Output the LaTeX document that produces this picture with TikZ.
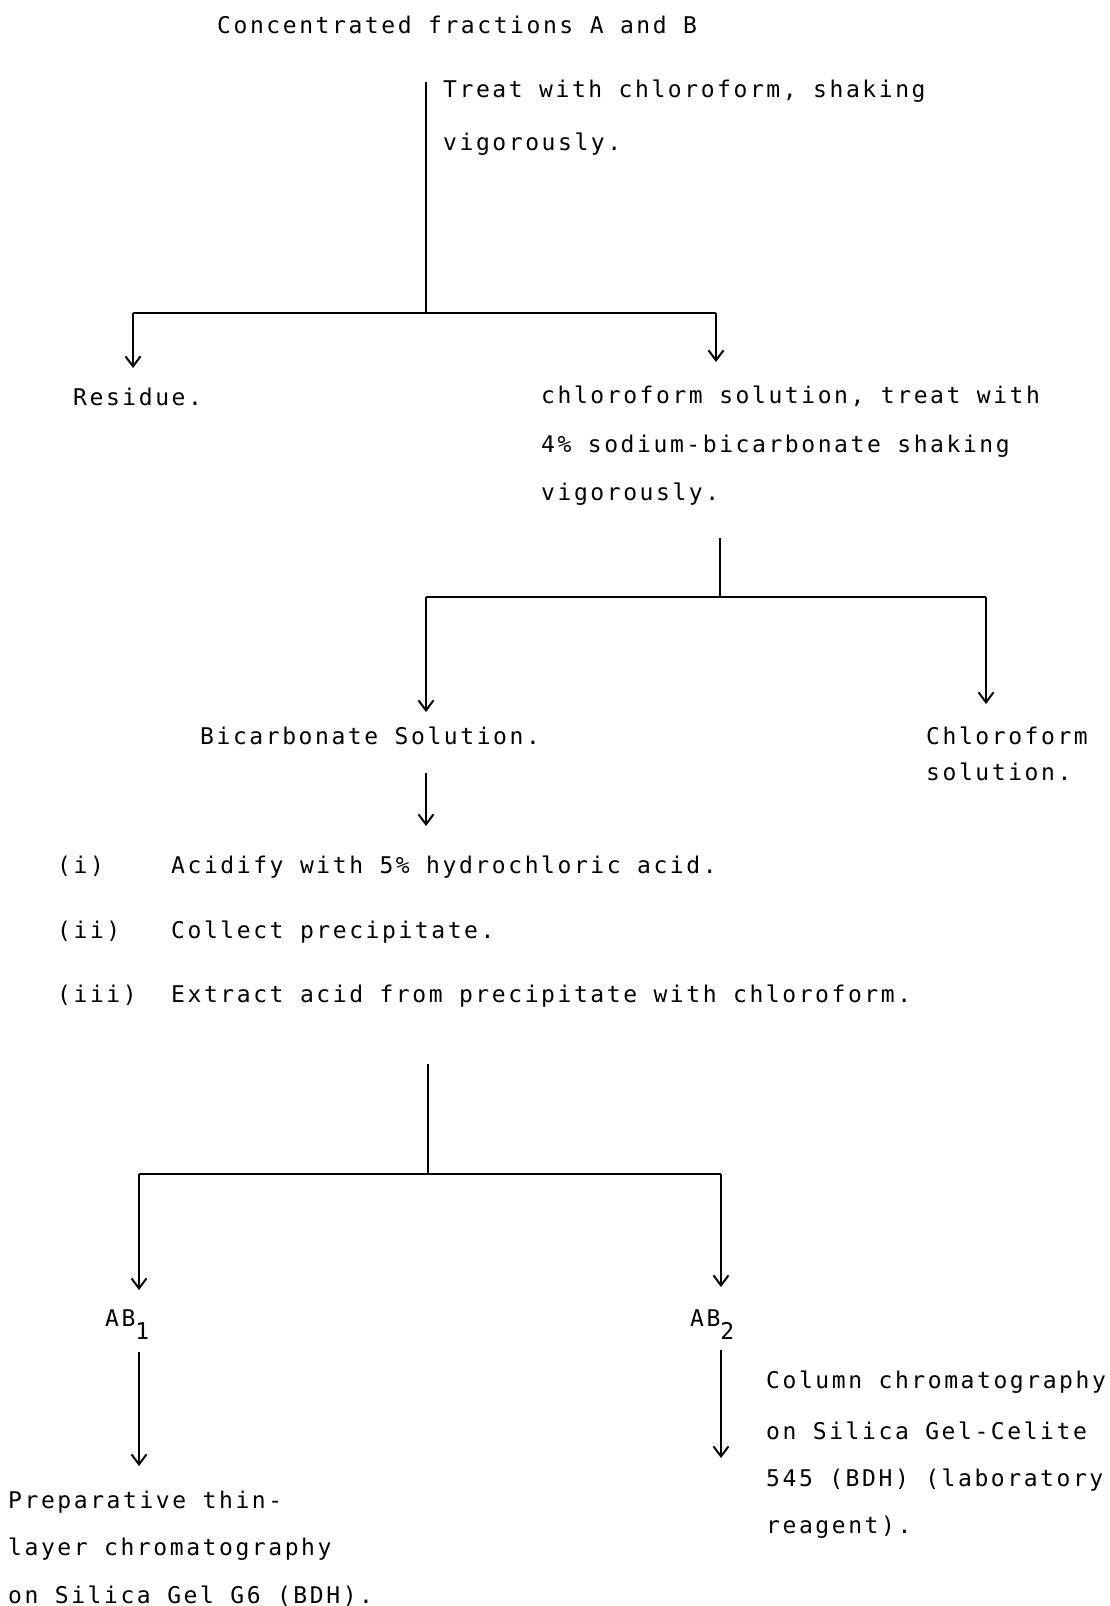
\documentclass[tikz,border=0pt]{standalone}
\usepackage{fontspec}
\newfontfamily\tw[LetterSpace=11.2]{DejaVu Sans Mono}
\usetikzlibrary{arrows.meta}
\begin{document}
\begin{tikzpicture}[x=1pt,y=-1pt,
  txt/.style={anchor=base west,inner sep=0pt,font=\tw\fontsize{23}{26}\selectfont},
  ln/.style={line width=2.2pt},
  bar/.style={line width=2.8pt},
  arr/.style={line width=2.2pt,-{Straight Barb[length=10pt,width=15pt,line width=2pt]}}]
\useasboundingbox (0,0) rectangle (1109,1606);
% texts
\node[txt] (title) at (217,33) {Concentrated fractions A and B};
\node[txt] (s1a) at (443,97) {Treat with chloroform, shaking};
\node[txt] (s1b) at (443,150) {vigorously.};
\node[txt] (res) at (73,405) {Residue.};
\node[txt] (cs1) at (541,403) {chloroform solution, treat with};
\node[txt] (cs2) at (541,452) {4\% sodium-bicarbonate shaking};
\node[txt] (cs3) at (541,500) {vigorously.};
\node[txt] (bic) at (200,744) {Bicarbonate Solution.};
\node[txt] (chl1) at (926,744) {Chloroform};
\node[txt] (chl2) at (926,780) {solution.};
\node[txt] (n1) at (57,873) {(i)};
\node[txt] (t1) at (171,873) {Acidify with 5\% hydrochloric acid.};
\node[txt] (n2) at (57,938) {(ii)};
\node[txt] (t2) at (171,938) {Collect precipitate.};
\node[txt] (n3) at (57,1002) {(iii)};
\node[txt] (t3) at (171,1002) {Extract acid from precipitate with chloroform.};
\node[txt] (ab1) at (105,1326) {AB\raisebox{-13pt}{1}};
\node[txt] (ab2) at (690,1326) {AB\raisebox{-13pt}{2}};
\node[txt] (p1) at (8,1508) {Preparative thin-};
\node[txt] (p2) at (8,1555) {layer chromatography};
\node[txt] (p3) at (8,1603) {on Silica Gel G6 (BDH).};
\node[txt] (c1) at (766,1388) {Column chromatography};
\node[txt] (c2) at (766,1439) {on Silica Gel-Celite};
\node[txt] (c3) at (766,1486) {545 (BDH) (laboratory};
\node[txt] (c4) at (766,1533) {reagent).};
% junction coordinates
\coordinate (a0) at (426,82);
\coordinate (a1) at (426,313);
\coordinate (a1L) at (133,313);
\coordinate (a1R) at (716,313);
\coordinate (a1Le) at (133,368);
\coordinate (a1Re) at (716,362);
\coordinate (b0) at (720,538);
\coordinate (b1) at (720,597);
\coordinate (b1L) at (426,597);
\coordinate (b1R) at (986,597);
\coordinate (b1Le) at (426,712);
\coordinate (b1Re) at (986,704);
\coordinate (c0) at (426,773);
\coordinate (c0e) at (426,826);
\coordinate (d0) at (428,1064);
\coordinate (d1) at (428,1174);
\coordinate (d1L) at (139,1174);
\coordinate (d1R) at (721,1174);
\coordinate (d1Le) at (139,1290);
\coordinate (d1Re) at (721,1287);
\coordinate (e1) at (139,1352);
\coordinate (e1e) at (139,1466);
\coordinate (e2) at (721,1350);
\coordinate (e2e) at (721,1458);
% connectors
\draw[ln] (a0) -- (a1);
\draw[bar] (a1L) -- (a1R);
\draw[arr] (a1L) -- (a1Le);
\draw[arr] (a1R) -- (a1Re);
\draw[ln] (b0) -- (b1);
\draw[bar] (b1L) -- (b1R);
\draw[arr] (b1L) -- (b1Le);
\draw[arr] (b1R) -- (b1Re);
\draw[arr] (c0) -- (c0e);
\draw[ln] (d0) -- (d1);
\draw[bar] (d1L) -- (d1R);
\draw[arr] (d1L) -- (d1Le);
\draw[arr] (d1R) -- (d1Re);
\draw[arr] (e1) -- (e1e);
\draw[arr] (e2) -- (e2e);
\end{tikzpicture}
\end{document}
